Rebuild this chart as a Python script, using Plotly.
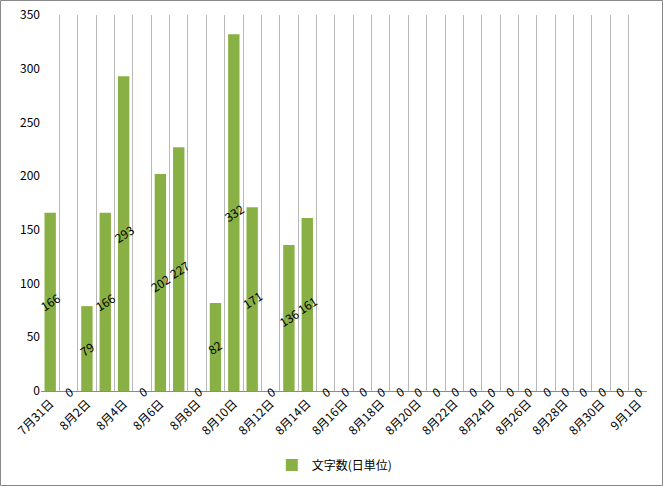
import plotly.graph_objects as go

dates = ["7月31日", "8月1日", "8月2日", "8月3日", "8月4日", "8月5日", "8月6日", "8月7日",
         "8月8日", "8月9日", "8月10日", "8月11日", "8月12日", "8月13日", "8月14日",
         "8月15日", "8月16日", "8月17日", "8月18日", "8月19日", "8月20日", "8月21日",
         "8月22日", "8月23日", "8月24日", "8月25日", "8月26日", "8月27日", "8月28日",
         "8月29日", "8月30日", "8月31日", "9月1日"]
counts = [166, 0, 79, 166, 293, 0, 202, 227, 0, 82, 332, 171, 0, 136, 161,
          0, 0, 0, 0, 0, 0, 0, 0, 0, 0, 0, 0, 0, 0, 0, 0, 0, 0]
series_name = "文字数(日単位)"

FONT = "Noto Sans CJK JP, Meiryo, sans-serif"
xs = list(range(len(dates)))

fig = go.Figure()
fig.add_trace(go.Bar(
    x=xs, y=counts, name=series_name,
    marker=dict(color="#89B044", line=dict(width=0)),
    width=0.62,
    showlegend=True,
))

annotations = []
for i, v in zip(xs, counts):
    annotations.append(dict(
        x=i, y=v / 2, xref="x", yref="y", text=str(v), showarrow=False,
        textangle=-33, font=dict(family=FONT, size=12, color="#000000"),
    ))

L, R, T, B = 41, 16, 15, 96
W, H = 663, 487
pw, ph = W - L - R, H - T - B

fig.update_layout(
    width=W, height=H,
    margin=dict(l=L, r=R, t=T, b=B, pad=0, autoexpand=False),
    paper_bgcolor="white", plot_bgcolor="white",
    font=dict(family=FONT, size=12, color="#000000"),
    annotations=annotations,
    showlegend=True,
    legend=dict(orientation="h", xref="container", yref="container",
                x=0.505, xanchor="center", y=22 / H, yanchor="middle",
                font=dict(family=FONT, size=12, color="#000000"),
                itemwidth=30),
    shapes=[dict(type="rect", xref="paper", yref="paper",
                 x0=(0.5 - L) / pw, x1=(W - 0.5 - L) / pw,
                 y0=(T + ph - (H - 1.5)) / ph, y1=(T + ph - 0.5) / ph,
                 line=dict(color="#888888", width=1), fillcolor="rgba(0,0,0,0)",
                 layer="below")],
    xaxis=dict(
        range=[-0.5, len(dates) - 0.5],
        tickmode="array",
        tickvals=xs[::2], ticktext=dates[::2],
        tickangle=-45, automargin=False,
        showgrid=False,
        showline=True, linecolor="#8C8C8C", linewidth=1,
        ticks="", zeroline=False,
        tickfont=dict(family=FONT, size=12, color="#000000"),
        minor=dict(tickmode="linear", tick0=-0.5, dtick=1, showgrid=True,
                   gridcolor="#B8B8B8", gridwidth=1, ticks=""),
    ),
    yaxis=dict(
        range=[0, 350], dtick=50, tick0=0, automargin=False,
        showgrid=False, zeroline=False, showline=False, ticks="",
        tickfont=dict(family=FONT, size=12, color="#000000"),
    ),
)

fig.write_html("out.html")
